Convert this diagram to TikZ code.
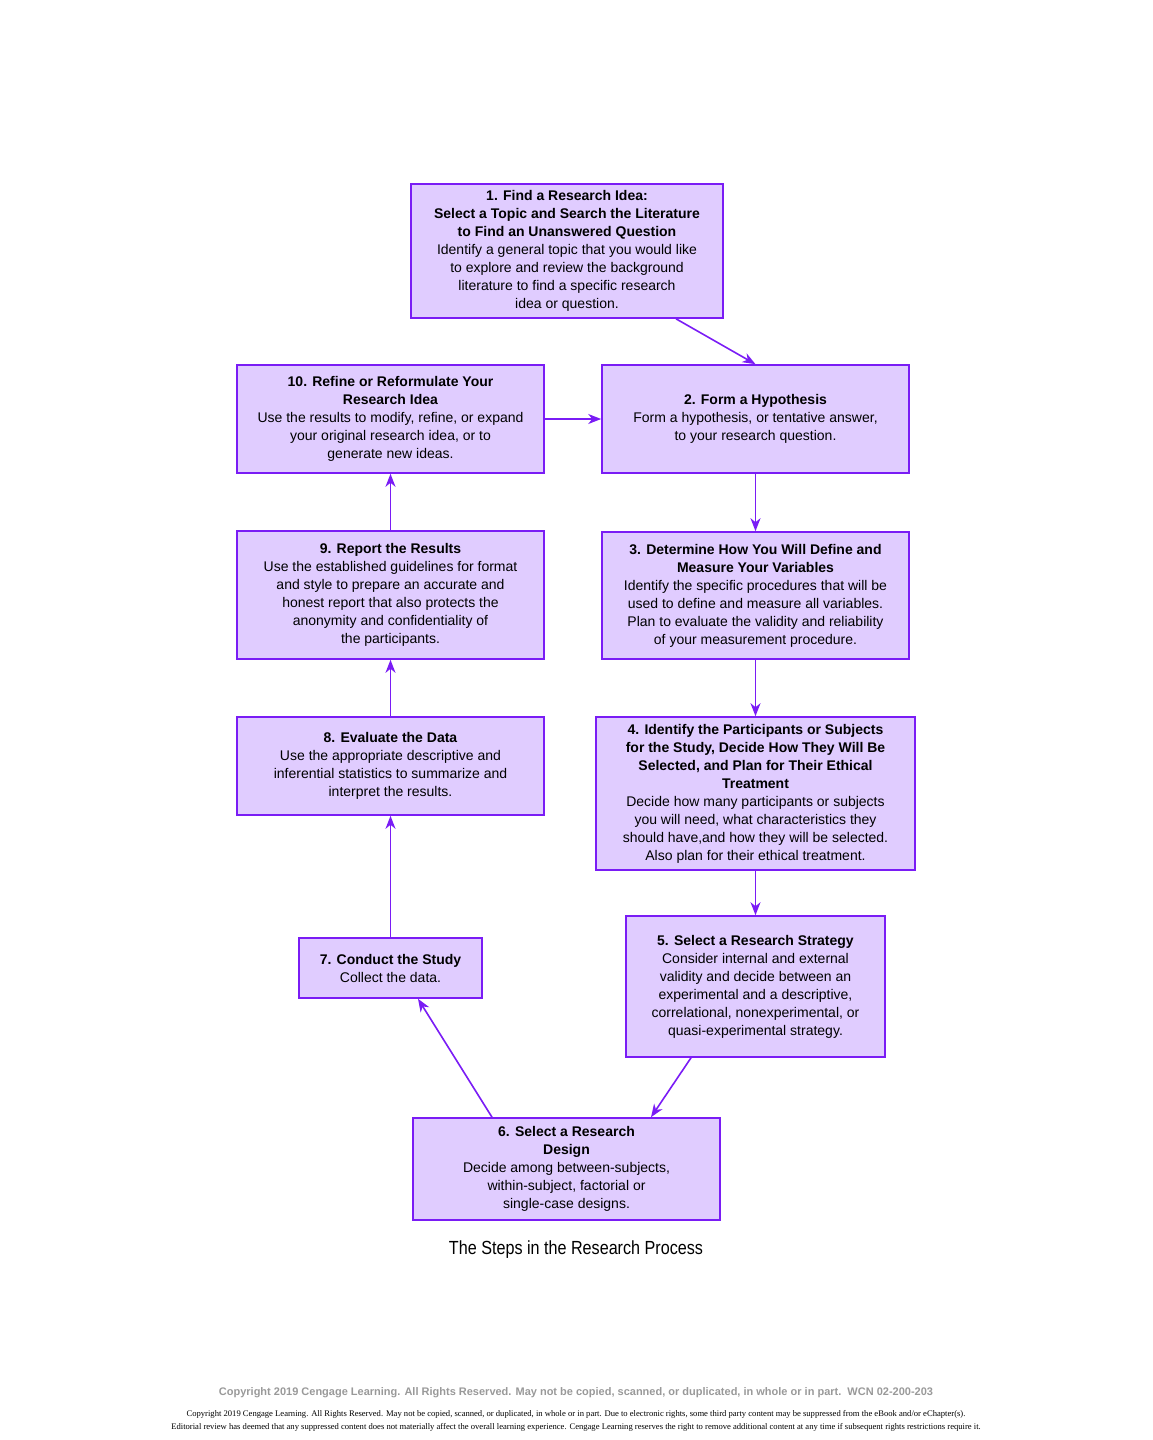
\documentclass[tikz,border=0pt]{standalone}
\usepackage{fontspec}
\setmainfont{Liberation Sans}
\usetikzlibrary{arrows.meta}
\definecolor{pl}{HTML}{7A1CF5}
\definecolor{pf}{HTML}{E0CCFF}
\begin{document}
\begin{tikzpicture}[x=1pt,y=-1pt,
 box/.style={draw=pl,line width=1.6pt,fill=pf,align=center,inner sep=0pt,font=\fontsize{14}{18}\selectfont},
 arr/.style={draw=pl,line width=1.6pt,-{Stealth[length=13pt,width=10pt,inset=4pt]}}]
\useasboundingbox (0,0) rectangle (1152,1440);
\node[box,minimum width=312,minimum height=134] (n1) at (567,251) {\textbf{1. Find a Research Idea:}\\\textbf{Select a Topic and Search the Literature}\\\textbf{to Find an Unanswered Question}\\Identify a general topic that you would like\\to explore and review the background\\literature to find a specific research\\idea or question.};
\node[box,minimum width=307,minimum height=108] (n2) at (755.5,419) {\textbf{2. Form a Hypothesis}\\Form a hypothesis, or tentative answer,\\to your research question.};
\node[box,minimum width=307,minimum height=108] (n10) at (390.5,419) {\textbf{10. Refine or Reformulate Your}\\\textbf{Research Idea}\\Use the results to modify, refine, or expand\\your original research idea, or to\\generate new ideas.};
\node[box,minimum width=307,minimum height=127] (n3) at (755.5,595.5) {\textbf{3. Determine How You Will Define and}\\\textbf{Measure Your Variables}\\Identify the specific procedures that will be\\used to define and measure all variables.\\Plan to evaluate the validity and reliability\\of your measurement procedure.};
\node[box,minimum width=307,minimum height=128] (n9) at (390.5,595) {\textbf{9. Report the Results}\\Use the established guidelines for format\\and style to prepare an accurate and\\honest report that also protects the\\anonymity and confidentiality of\\the participants.};
\node[box,minimum width=319,minimum height=153] (n4) at (755.5,793.5) {\textbf{4. Identify the Participants or Subjects}\\\textbf{for the Study, Decide How They Will Be}\\\textbf{Selected, and Plan for Their Ethical}\\\textbf{Treatment}\\Decide how many participants or subjects\\you will need, what characteristics they\\should have,and how they will be selected.\\Also plan for their ethical treatment.};
\node[box,minimum width=307,minimum height=98] (n8) at (390.5,766) {\textbf{8. Evaluate the Data}\\Use the appropriate descriptive and\\inferential statistics to summarize and\\interpret the results.};
\node[box,minimum width=259,minimum height=141] (n5) at (755.5,986.5) {\textbf{5. Select a Research Strategy}\\Consider internal and external\\validity and decide between an\\experimental and a descriptive,\\correlational, nonexperimental, or\\quasi-experimental strategy.};
\node[box,minimum width=183,minimum height=60] (n7) at (390.5,968) {\textbf{7. Conduct the Study}\\Collect the data.};
\node[box,minimum width=307,minimum height=102] (n6) at (566.5,1169) {\textbf{6. Select a Research}\\\textbf{Design}\\Decide among between-subjects,\\within-subject, factorial or\\single-case designs.};
\draw[arr] (n1.south -| 676,0) -- (n2.north);
\draw[arr] (n10) -- (n2);
\draw[arr] (n2) -- (n3);
\draw[arr] (n3) -- (n4);
\draw[arr] (n4) -- (n5);
\draw[arr] (n5.south -| 691,0) -- (n6.north -| 651,0);
\draw[arr] (n6.north -| 492,0) -- (n7.south -| 418,0);
\draw[arr] (n7) -- (n8);
\draw[arr] (n8) -- (n9);
\draw[arr] (n9) -- (n10);
\node[font=\fontsize{19}{22}\selectfont,xscale=0.85] (t) at (576,1250) {The Steps in the Research Process};
\node[font=\bfseries\fontsize{11}{13}\selectfont,text=gray!80] (c1) at (576,1393) {Copyright 2019 Cengage Learning. All Rights Reserved. May not be copied, scanned, or duplicated, in whole or in part.\ \ WCN 02-200-203};
\node[font=\fontspec{Liberation Serif}\fontsize{8.6}{13}\selectfont,align=center] (c2) at (576,1421) {Copyright 2019 Cengage Learning. All Rights Reserved. May not be copied, scanned, or duplicated, in whole or in part. Due to electronic rights, some third party content may be suppressed from the eBook and/or eChapter(s).\\Editorial review has deemed that any suppressed content does not materially affect the overall learning experience. Cengage Learning reserves the right to remove additional content at any time if subsequent rights restrictions require it.};
\end{tikzpicture}
\end{document}
